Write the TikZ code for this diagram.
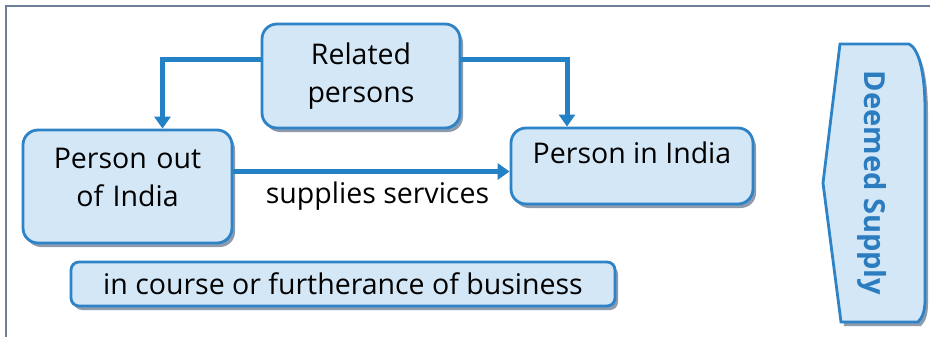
\documentclass[tikz,border=0pt]{standalone}
\usepackage{fontspec}
\setmainfont{Open Sans}
\usetikzlibrary{arrows.meta,positioning,shadows}
\definecolor{boxfill}{HTML}{D4E7F6}
\definecolor{boxline}{HTML}{2E83C6}
\definecolor{arrblue}{HTML}{2481C5}
\definecolor{shadowgray}{HTML}{8E9BAD}
\definecolor{framegray}{HTML}{6B7F99}
\definecolor{deemedblue}{HTML}{2C7CC0}

\begin{document}
\begin{tikzpicture}[x=1pt,y=-1pt,
      font=\fontsize{28.5}{38}\selectfont,
      box/.style={draw=boxline,line width=2.8pt,fill=boxfill,rounded corners=15pt,
                  align=center,inner sep=0pt,
                  drop shadow={shadow xshift=3pt,shadow yshift=-4pt,fill=shadowgray,opacity=1}},
      arr/.style={-{Triangle[length=12pt,width=16pt]},draw=arrblue,line width=5pt}]
    \useasboundingbox (0,0) rectangle (930,337);
    \draw[framegray,line width=2pt] (6,337) -- (6,6) -- (930,6);
    \node[box,minimum width=198pt,minimum height=104pt] (rel) at (361,76) {Related\\persons};
    \node[box,minimum width=209pt,minimum height=113pt,text width=190pt,
          text height=20pt,text depth=57pt] (out) at (127.5,186.5) {Person out\\of India};
    \node[box,minimum width=242pt,minimum height=76pt,
          text height=20pt,text depth=24pt] (in) at (632,166) {Person in India};
    \node[box,minimum width=544pt,minimum height=44pt,rounded corners=8pt] (course) at (343,284)
      {in course or furtherance of business};
    \draw[boxline,line width=2.8pt,fill=boxfill,
          drop shadow={shadow xshift=3pt,shadow yshift=-4pt,fill=shadowgray,opacity=1}]
      (840,44) -- (909,44) .. controls (918,48) and (925,70) .. (925,110) -- (925,300)
      .. controls (925,312) and (922,318) .. (918,322) -- (841,322) -- (823,183) -- cycle;
    \node[font=\fontsize{29}{32}\selectfont\bfseries,text=deemedblue,rotate=-90] (deemed)
      at (872,183) {Deemed Supply};
    \draw[arr] ([yshift=16pt]rel.west) -| ([xshift=35pt]out.north);
    \draw[arr] ([yshift=16pt]rel.east) -| ([xshift=-65pt]in.north);
    \draw[arr] ([yshift=15pt]out.east) coordinate (s) -- (s -| in.west)
      node[midway,below=5pt,xshift=6pt,black] {supplies services};
  \end{tikzpicture}
\end{document}
